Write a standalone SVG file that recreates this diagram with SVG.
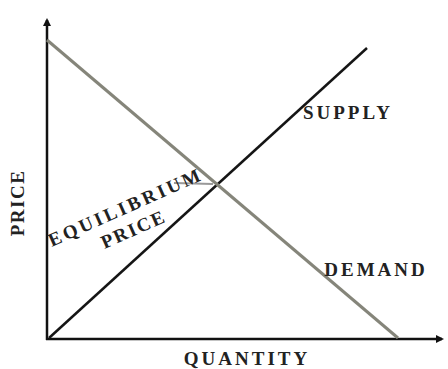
<svg xmlns="http://www.w3.org/2000/svg" width="448" height="369" viewBox="0 0 448 369">
<defs>
<marker id="ah" markerWidth="8" markerHeight="8" refX="6" refY="4" orient="auto" markerUnits="userSpaceOnUse"><path d="M0,0 L8,4 L0,8 Z" fill="#111"/></marker>
</defs>
<style>
.lbl{font-family:"Liberation Serif","DejaVu Serif",serif;font-weight:bold;fill:#222;font-size:19px;letter-spacing:3px}
.ax{stroke:#111;stroke-width:2.5;fill:none}
</style>
<rect width="448" height="369" fill="#fff"/>
<g id="connectors">
<line class="ax" x1="47" y1="340" x2="47" y2="20" marker-end="url(#ah)"/>
<line class="ax" x1="46" y1="339" x2="442" y2="339" marker-end="url(#ah)"/>
<line id="supply-line" x1="49" y1="338" x2="367" y2="48" stroke="#151515" stroke-width="2.5"/>
<line id="demand-line" x1="47" y1="40" x2="398" y2="338" stroke="#85857a" stroke-width="3"/>
<line id="eq-leader" x1="174" y1="183" x2="213" y2="184" stroke="#999" stroke-width="2"/>
</g>
<g id="price-axis-label"><text class="lbl" style="letter-spacing:1.5px" transform="translate(24,203) rotate(-90)" text-anchor="middle">PRICE</text></g>
<g id="quantity-label"><text class="lbl" x="247" y="365" text-anchor="middle">QUANTITY</text></g>
<g id="supply"><text class="lbl" x="348" y="119" text-anchor="middle">SUPPLY</text></g>
<g id="demand"><text class="lbl" x="376" y="276" text-anchor="middle">DEMAND</text></g>
<g id="equilibrium-price"><text class="lbl" transform="translate(128,213) rotate(-24)" text-anchor="middle">EQUILIBRIUM</text><text class="lbl" style="letter-spacing:2px" transform="translate(136,235) rotate(-24)" text-anchor="middle">PRICE</text></g>
</svg>
